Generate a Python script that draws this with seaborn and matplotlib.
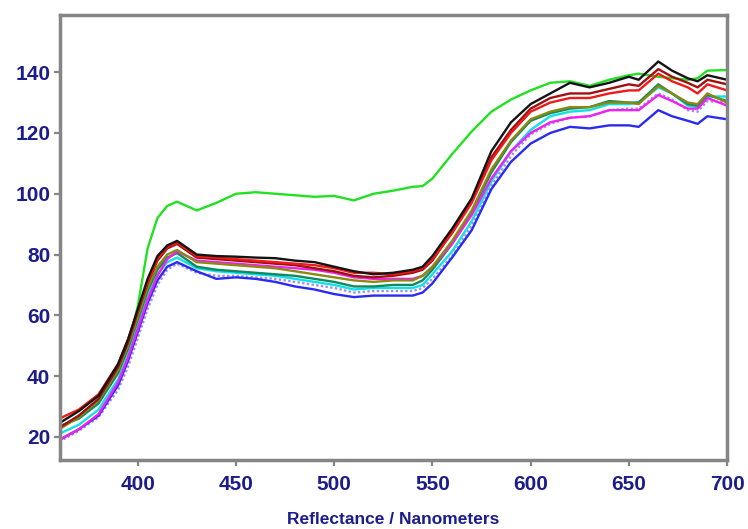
import pandas as pd
import seaborn as sns
import matplotlib.pyplot as plt

# Wavelength grid (nm)
wavelength = [360, 370, 380, 390, 395, 400, 405, 410, 415, 420, 430, 440, 450, 460,
              470, 480, 490, 500, 510, 520, 530, 540, 545, 550, 560, 570, 580, 590,
              600, 610, 620, 630, 640, 650, 655, 665, 672, 680, 685, 690, 700]

green = [23, 27, 32, 42, 50, 63, 82, 92, 96, 97.4, 94.5, 97, 100, 100.5,
         100, 99.5, 99, 99.3, 97.8, 100, 101, 102.3, 102.5, 105, 113, 120.5, 127, 131,
         134, 136.5, 137, 135.5, 137.5, 139, 139.5, 138.5, 138, 137.5, 138, 140.5, 140.7]
black = [24.5, 28.5, 33.5, 44, 52, 62, 72, 79.5, 83, 84.5, 80, 79.5, 79.3, 79,
         78.8, 78, 77.5, 76, 74.5, 73.5, 74, 75, 76, 79.5, 88.5, 98.5, 114, 123.5,
         129.5, 133, 136.5, 135, 136.5, 138.5, 137.5, 143.5, 140.5, 138, 137, 139, 137.5]
red = [26, 29, 34, 44, 52, 61.5, 71, 78.5, 82.5, 84, 79.5, 79, 78.5, 78,
       77.5, 77, 76.5, 75.5, 74, 74, 73.5, 74.5, 75.5, 78.5, 87, 97, 111, 120,
       127, 130, 131.5, 131.5, 133, 134, 134, 139.5, 137, 135, 133, 136, 134]
darkred = [23, 27, 32.5, 43, 51, 61, 70.5, 78, 82, 83.5, 79, 78.5, 78, 77.5,
           77, 76.5, 75.5, 74.5, 73, 72.5, 73, 74, 75, 78, 87.5, 97.5, 112, 121,
           128, 131.5, 133, 133, 134.5, 136, 135.5, 141, 138.5, 136.5, 135, 137.5, 136]
olive = [22.5, 26.5, 32, 42, 50, 59.5, 69, 76, 80, 81.5, 77.5, 77, 76.5, 76,
         75.5, 74.5, 73.5, 72.5, 71.5, 71, 71.5, 71.5, 73, 76, 84.5, 94.5, 108, 117.5,
         124.5, 127, 128.5, 128.5, 130, 130, 129.5, 135.5, 133, 130, 129.5, 133, 130]
magenta = [19, 22.5, 27.5, 38, 46, 55.5, 65, 73, 78.5, 81, 78, 77.5, 77, 76.5,
           76, 75.5, 75, 74, 72.5, 72, 72, 72, 73, 76, 83.5, 93, 105, 114,
           120, 123.5, 125, 125.5, 127.5, 127.5, 127.5, 132.5, 130.5, 128, 128, 131.5, 129]
teal = [23.5, 26, 31, 41, 49, 58.5, 68, 75, 79, 80.5, 76, 75, 74.5, 74,
        73.5, 73, 72, 71, 69.5, 69.5, 70, 70, 71.5, 75, 83.5, 94, 107, 117,
        124, 126.5, 128, 128.5, 130.5, 130, 130, 136, 133, 129.5, 129, 132.5, 130.5]
cyan = [21, 24, 29, 39, 47, 56.5, 66, 73.5, 77.5, 79, 75.5, 74.5, 74, 73.5,
        73, 72, 71, 70, 68.5, 69, 69, 69, 70, 73.5, 81, 91, 104, 114,
        121, 125.5, 127, 127.5, 129.5, 129.5, 130, 135, 133, 129, 128.5, 132, 132]
violet = [18.5, 22, 26.5, 35.5, 43, 52.5, 62, 70, 75, 77, 74, 73, 73, 72.5,
          72, 71, 70, 69, 67.5, 68, 68, 68, 69, 72, 79.5, 89.5, 102.5, 112.5,
          119.5, 123, 125, 125.5, 127.5, 128, 128, 133, 131, 127.5, 127, 130.5, 130]
blue = [19, 22.5, 27, 37, 45, 54.5, 64, 71.5, 76, 77.5, 74.5, 72, 72.5, 72,
        71, 69.5, 68.5, 67, 66, 66.5, 66.5, 66.5, 67.5, 70.5, 79, 88, 101.5, 110.5,
        116.5, 120, 122, 121.5, 122.5, 122.5, 122, 127.5, 125.5, 124, 123, 125.5, 124.5]

series = {
    'green': green, 'violet': violet, 'blue': blue, 'cyan': cyan, 'teal': teal,
    'magenta': magenta, 'olive': olive, 'darkred': darkred, 'red': red, 'black': black,
}
palette = {
    'green': '#22e022', 'violet': '#9a8cff', 'blue': '#2a2af0', 'cyan': '#10e0e8',
    'teal': '#0e8a5e', 'magenta': '#f020f0', 'olive': '#8a8a10', 'darkred': '#a01010',
    'red': '#f01818', 'black': '#141414',
}

df = pd.concat(
    [pd.DataFrame({'wl': wavelength, 'val': v, 'sample': k}) for k, v in series.items()],
    ignore_index=True)

plt.rcParams['font.family'] = ['Liberation Sans', 'DejaVu Sans']

fig = plt.figure(figsize=(7.48, 5.29), dpi=100)
ax = fig.add_axes([0.0802, 0.1304, 0.8918, 0.8412])

sns.lineplot(data=df, x='wl', y='val', hue='sample', palette=palette,
             linewidth=1.7, legend=False, ax=ax, sort=True)
ax.lines[1].set_linestyle((0, (1, 1)))

ax.set_xlim(360.4, 700)
ax.set_ylim(12.4, 158.8)
ax.set_xticks([400, 450, 500, 550, 600, 650, 700])
ax.set_yticks([20, 40, 60, 80, 100, 120, 140])

navy = '#1c1c8a'
for s in ax.spines.values():
    s.set_color('#858585')
    s.set_linewidth(2.5)
ax.tick_params(axis='both', colors='#858585', length=4, width=1.6,
               labelcolor=navy, labelsize=15)
ax.tick_params(axis='x', pad=7)
ax.tick_params(axis='y', pad=3)
for lab in ax.get_xticklabels() + ax.get_yticklabels():
    lab.set_fontweight('bold')

ax.set_xlabel('Reflectance / Nanometers', color=navy, fontsize=12.5,
              fontweight='bold', labelpad=13)
ax.set_ylabel('')

fig.savefig('out.png', dpi=100)
